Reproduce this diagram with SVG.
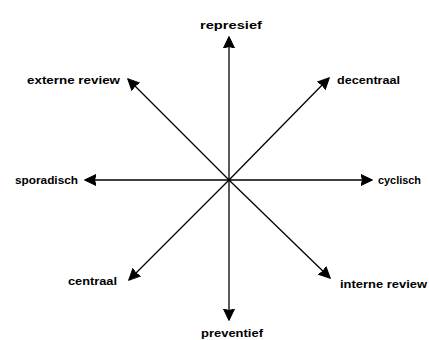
<svg xmlns="http://www.w3.org/2000/svg" width="429" height="340" viewBox="0 0 429 340">
<style>
.lbl{font-family:"Liberation Sans Narrow","Liberation Sans",Arial,sans-serif;font-size:11px;font-weight:bold;fill:#000}
.ax{stroke:#000;stroke-width:1.3;fill:none}
</style>
<defs>
<marker id="ah" viewBox="0 0 12 12" refX="11" refY="6" markerWidth="12" markerHeight="12" markerUnits="userSpaceOnUse" orient="auto">
<path d="M0,0.5 L11.5,6 L0,11.5 L1.5,6 Z" fill="#000" stroke="#000" stroke-width="1" stroke-linejoin="round"/>
</marker>
</defs>
<rect width="429" height="340" fill="#fff"/>
<g id="connectors">
<line class="ax" x1="229" y1="180" x2="229" y2="37" marker-end="url(#ah)"/>
<line class="ax" x1="229" y1="180" x2="229" y2="320" marker-end="url(#ah)"/>
<line class="ax" x1="229" y1="180" x2="85" y2="180" marker-end="url(#ah)"/>
<line class="ax" x1="229" y1="180" x2="372" y2="180" marker-end="url(#ah)"/>
<line class="ax" x1="229" y1="180" x2="128" y2="79" marker-end="url(#ah)"/>
<line class="ax" x1="229" y1="180" x2="329" y2="78" marker-end="url(#ah)"/>
<line class="ax" x1="229" y1="180" x2="129" y2="280" marker-end="url(#ah)"/>
<line class="ax" x1="229" y1="180" x2="330" y2="278" marker-end="url(#ah)"/>
</g>
<g id="represief"><text class="lbl" x="200" y="29" textLength="62" lengthAdjust="spacingAndGlyphs">represief</text></g>
<g id="preventief"><text class="lbl" x="201" y="337" textLength="62" lengthAdjust="spacingAndGlyphs">preventief</text></g>
<g id="externe-review"><text class="lbl" x="27" y="84" textLength="93" lengthAdjust="spacingAndGlyphs">externe review</text></g>
<g id="decentraal"><text class="lbl" x="337" y="84" textLength="63" lengthAdjust="spacingAndGlyphs">decentraal</text></g>
<g id="sporadisch"><text class="lbl" x="15" y="184" textLength="63" lengthAdjust="spacingAndGlyphs">sporadisch</text></g>
<g id="cyclisch"><text class="lbl" x="378" y="184" textLength="43" lengthAdjust="spacingAndGlyphs">cyclisch</text></g>
<g id="centraal"><text class="lbl" x="68" y="285" textLength="49" lengthAdjust="spacingAndGlyphs">centraal</text></g>
<g id="interne-review"><text class="lbl" x="340" y="288" textLength="87" lengthAdjust="spacingAndGlyphs">interne review</text></g>
</svg>
